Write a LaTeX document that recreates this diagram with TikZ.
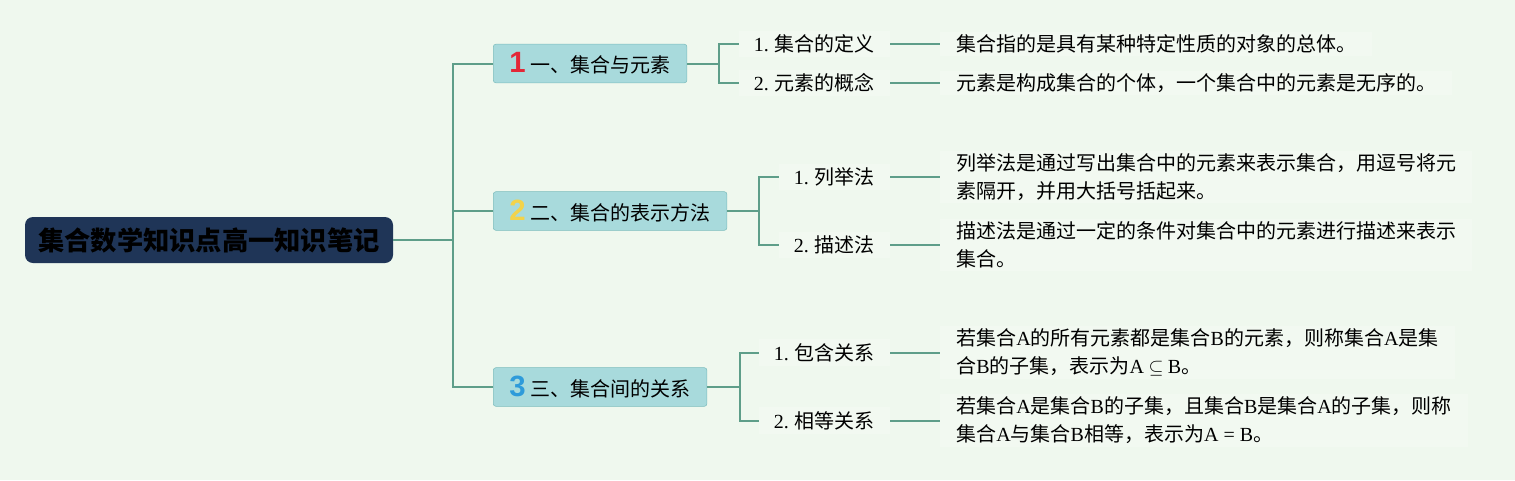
\documentclass[tikz,border=0pt]{standalone}
\usepackage{fontspec}
\setmainfont{Noto Sans CJK SC}
\newfontfamily\lat{Liberation Serif}
\newfontfamily\numfont{Liberation Sans}
\usepackage{tikz}
\usetikzlibrary{calc,positioning}
\definecolor{bgmint}{HTML}{EFF8EE}
\definecolor{rootblue}{HTML}{1F3557}
\definecolor{topicfill}{HTML}{A8DADC}
\definecolor{topicline}{HTML}{7DBDBD}
\definecolor{branchline}{HTML}{5E9E89}
\definecolor{leaffill}{HTML}{F2F9F1}
\definecolor{numred}{HTML}{E32636}
\definecolor{numyellow}{HTML}{F3D34A}
\definecolor{numblue}{HTML}{2E9BDA}
\newcommand{\topicnum}[2]{{\numfont\bfseries\fontsize{22}{22}\selectfont\color{#1}#2}\hspace{4pt}}
\tikzstyle{branch}=[
  draw=branchline,
  line width=1.5pt,
]
\tikzset{
  node distance=37.5pt,
  root/.style={fill=rootblue, rounded corners=6pt, text=black,
    minimum width=276pt, minimum height=34.5pt, inner sep=0pt,
    font=\bfseries\fontsize{19.7}{22}\selectfont},
  topic/.style={anchor=west, fill=topicfill, draw=topicline, rounded corners=2pt,
    minimum height=29pt, inner xsep=12pt, inner ysep=0pt,
    font=\fontsize{15}{18}\selectfont},
  leaf/.style={anchor=east, fill=leaffill, inner xsep=11.25pt, inner ysep=3pt,
    font=\fontsize{15}{18}\selectfont},
  desc/.style={fill=leaffill, align=left, inner xsep=12pt, inner ysep=2pt,
    font=\fontsize{15}{21}\selectfont},
}

\begin{document}
\begin{tikzpicture}[x=0.75pt, y=-0.75pt]
  \fill[bgmint] (0,0) rectangle (1515,480);
  \node[root] (root) at (209,240) {集合数学知识点高一知识笔记};
  \node[topic] (t1) at (493,63.5) {\topicnum{numred}{1}一、集合与元素};
  \node[topic] (t2) at (493,211) {\topicnum{numyellow}{2}二、集合的表示方法};
  \node[topic] (t3) at (493,387) {\topicnum{numblue}{3}三、集合间的关系};
  \node[leaf] (l11) at (890,44) {{\lat 1.} 集合的定义};
  \node[leaf] (l12) at (890,83) {{\lat 2.} 元素的概念};
  \node[leaf] (l21) at (890,177) {{\lat 1.} 列举法};
  \node[leaf] (l22) at (890,245) {{\lat 2.} 描述法};
  \node[leaf] (l31) at (890,352.5) {{\lat 1.} 包含关系};
  \node[leaf] (l32) at (890,420.5) {{\lat 2.} 相等关系};
  \node[desc, right=of l11] (d11) {集合指的是具有某种特定性质的对象的总体。};
  \node[desc, right=of l12] (d12) {元素是构成集合的个体，一个集合中的元素是无序的。};
  \node[desc, right=of l21] (d21) {列举法是通过写出集合中的元素来表示集合，用逗号将元\\素隔开，并用大括号括起来。};
  \node[desc, right=of l22] (d22) {描述法是通过一定的条件对集合中的元素进行描述来表示\\集合。};
  \node[desc, right=of l31] (d31) {若集合{\lat A}的所有元素都是集合{\lat B}的元素，则称集合{\lat A}是集\\合{\lat B}的子集，表示为{\lat A} $\subseteq$ {\lat B}。};
  \node[desc, right=of l32] (d32) {若集合{\lat A}是集合{\lat B}的子集，且集合{\lat B}是集合{\lat A}的子集，则称\\集合{\lat A}与集合{\lat B}相等，表示为{\lat A = B}。};
  \coordinate (trunk) at (453,240);
  \coordinate (k1) at (719,63.5);
  \coordinate (k2) at (759,211);
  \coordinate (k3) at (740,387);
  \draw[branch] (root.east) -- (trunk);
  \foreach \t in {t1,t2,t3}
    \draw[branch] (\t.west) -| (trunk);
  \foreach \k in {1,2,3} {
    \draw[branch] (t\k.east) -- (k\k);
    \draw[branch] (l\k1.west) -| (k\k);
    \draw[branch] (l\k2.west) -| (k\k);
  }
  \foreach \i in {11,12,21,22,31,32}
    \draw[branch] (l\i.east) -- (d\i.west);
\end{tikzpicture}
\end{document}
